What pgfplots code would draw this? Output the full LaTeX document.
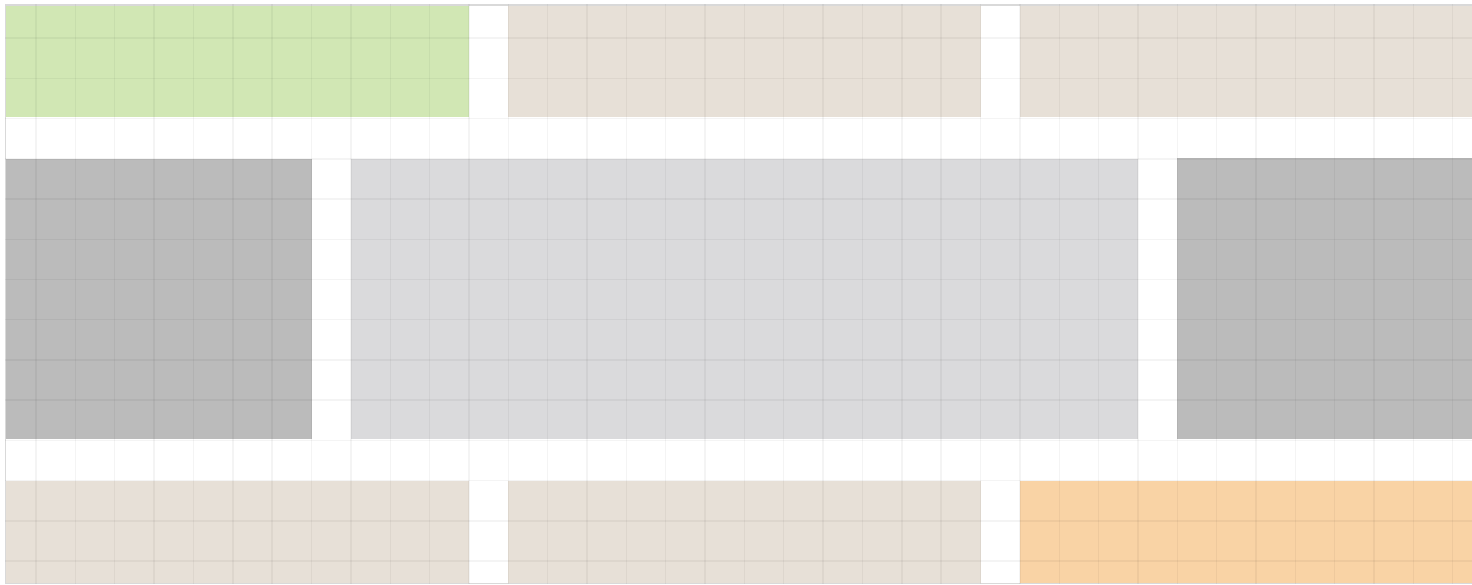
\documentclass[border=0pt]{standalone}
\usepackage{pgfplots}
\pgfplotsset{compat=1.18}
\definecolor{cgreen}{RGB}{209,231,180}
\definecolor{cbeige}{RGB}{231,224,215}
\definecolor{cdark}{RGB}{187,187,187}
\definecolor{clight}{RGB}{218,218,220}
\definecolor{corange}{RGB}{249,211,165}
\definecolor{cframe}{RGB}{217,217,217}
\begin{document}
\begin{tikzpicture}
\begin{axis}[
  name=ax,
  x=19.665pt, y=20.1pt, y dir=reverse,
  xmin=-0.79, xmax=36.49, ymin=-0.84, ymax=13.57,
  xtick={0,...,36}, ytick={0,...,13},
  xticklabels={}, yticklabels={},
  major tick length=0pt,
  grid=major,
  grid style={draw=black, opacity=0.045, line width=0.7pt},
  axis on top=true,
  axis line style={draw=none},
  clip=true,
]
% top row
\addplot[fill=cgreen, draw=none] coordinates {(-1,-1) (11,-1) (11,1.97) (-1,1.97)} -- cycle;
\addplot[fill=cbeige, draw=none] coordinates {(12,-1) (24,-1) (24,1.97) (12,1.97)} -- cycle;
\addplot[fill=cbeige, draw=none] coordinates {(25,-1) (37,-1) (37,1.97) (25,1.97)} -- cycle;
% middle row
\addplot[fill=cdark, draw=none] coordinates {(-1,3) (7,3) (7,9.97) (-1,9.97)} -- cycle;
\addplot[fill=clight, draw=none] coordinates {(8,3) (28,3) (28,9.97) (8,9.97)} -- cycle;
\addplot[fill=cdark, draw=none] coordinates {(29,2.97) (37,2.97) (37,9.97) (29,9.97)} -- cycle;
% bottom row
\addplot[fill=cbeige, draw=none] coordinates {(-1,11) (11,11) (11,14) (-1,14)} -- cycle;
\addplot[fill=cbeige, draw=none] coordinates {(12,11) (24,11) (24,14) (12,14)} -- cycle;
\addplot[fill=corange, draw=none] coordinates {(25,11) (37,11) (37,14) (25,14)} -- cycle;
\draw[cframe, line width=1.2pt] (rel axis cs:1,0) -- (rel axis cs:0,0) -- (rel axis cs:0,1) -- (rel axis cs:1,1);
\end{axis}
\pgfresetboundingbox
\path[use as bounding box] ([xshift=-2.5pt,yshift=-0.5pt]ax.south west) rectangle ([yshift=2.2pt]ax.north east);
\end{tikzpicture}
\end{document}
